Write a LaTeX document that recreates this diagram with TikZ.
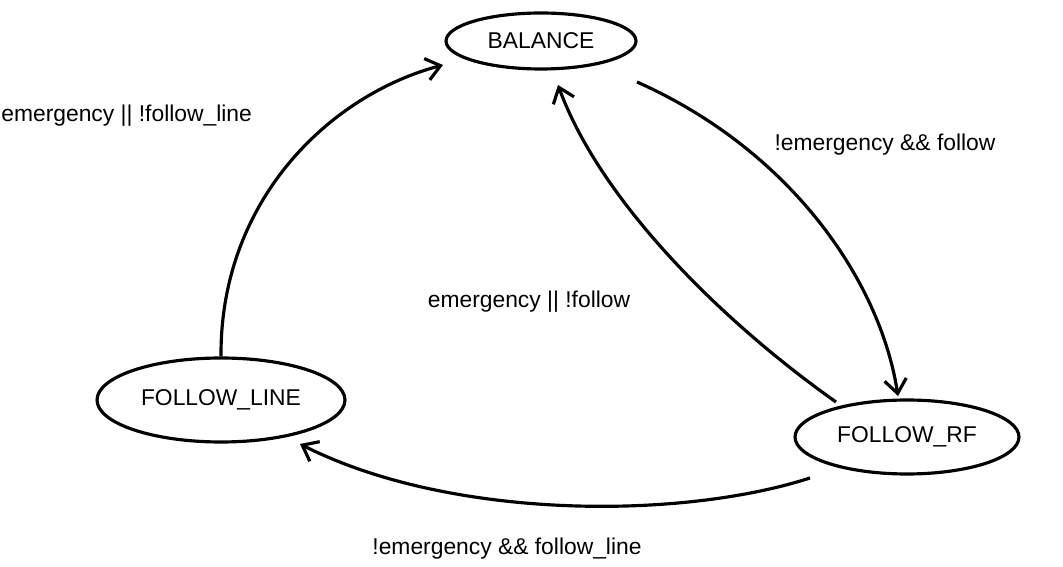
\documentclass[tikz,border=0pt]{standalone}
\usepackage{fontspec}
\setmainfont{Liberation Sans}
\usetikzlibrary{shapes.geometric,arrows.meta}
\begin{document}
\begin{tikzpicture}[x=0.02cm,y=-0.02cm,
  state/.style={draw,ellipse,line width=1.8pt,inner sep=0pt,font=\fontsize{13}{15}\selectfont},
  trans/.style={line width=1.8pt,-{Straight Barb[length=0.28cm,width=0.44cm,line width=1.8pt]}},
  lbl/.style={font=\fontsize{13}{15}\selectfont,inner sep=0pt}]
\useasboundingbox (0,0) rectangle (1063,567);
\node[state,minimum width=3.8cm,minimum height=1.12cm] (bal) at (541,41) {BALANCE};
\node[state,minimum width=4.96cm,minimum height=1.68cm] (fl) at (221,400) {FOLLOW\_LINE};
\node[state,minimum width=4.48cm,minimum height=1.48cm] (rf) at (907,437) {FOLLOW\_RF};
\coordinate (a1e) at (443,65);
\coordinate (a2s) at (637,82);
\coordinate (a2e) at (898,396);
\coordinate (a3s) at (836,402);
\coordinate (a3e) at (558,85);
\coordinate (a4s) at (810,478);
\coordinate (a4e) at (300,444);
\draw[trans] (fl.north) .. controls (220,200) and (330,95) .. (a1e);
\draw[trans] (a2s) .. controls (790,150) and (880,280) .. (a2e);
\draw[trans] (a3s) .. controls (720,320) and (600,200) .. (a3e);
\draw[trans] (a4s) .. controls (680,520) and (450,520) .. (a4e);
\node[lbl,anchor=west] (l1) at (1,116) {emergency || !follow\_line};
\node[lbl] (l2) at (885,145) {!emergency \&\& follow};
\node[lbl] (l3) at (529,302) {emergency || !follow};
\node[lbl] (l4) at (507,549) {!emergency \&\& follow\_line};
\end{tikzpicture}
\end{document}
